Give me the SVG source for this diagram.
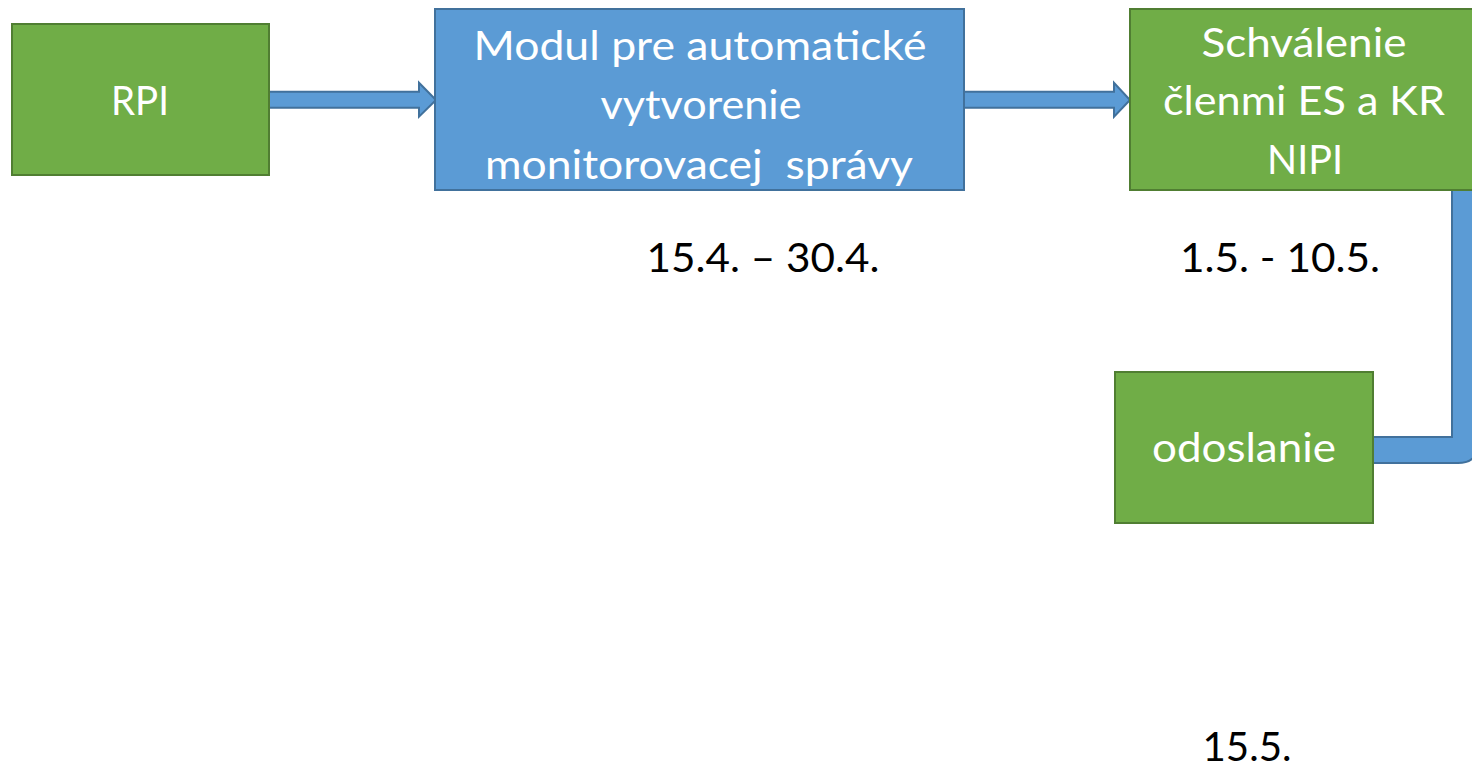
<svg xmlns="http://www.w3.org/2000/svg" width="1472" height="766" viewBox="0 0 1472 766">
<style>
.g{fill:#70AD47;stroke:#507E32;stroke-width:2}
.b{fill:#5B9BD5;stroke:#41719C;stroke-width:2}
.c{fill:#5B9BD5;stroke:#41719C;stroke-width:2;stroke-linejoin:miter}
text{font-family:Lato,"Open Sans","Liberation Sans",sans-serif;font-size:40px;text-anchor:middle}
.w{fill:#FFFFFF}
.k{fill:#000000}
</style>
<rect width="1472" height="766" fill="#FFFFFF"/>
<g id="connectors">
<path class="c" d="M269,91.7 H419 V82.7 L436,100 L419,116.7 V107.7 H269 Z"/>
<path class="c" d="M964,91.7 H1114 V82.7 L1130,100 L1114,116.7 V107.7 H964 Z"/>
<path class="c" d="M1373,437 H1452 V190 H1478 V443 Q1478,463 1458,463 H1373 Z"/>
</g>
<g id="rpi">
<rect class="g" x="12" y="24" width="257" height="151"/>
<text class="w" x="140" y="115" textLength="58" lengthAdjust="spacingAndGlyphs">RPI</text>
</g>
<g id="modul">
<rect class="b" x="435" y="9" width="529" height="181"/>
<text class="w" x="700" y="60" textLength="453" lengthAdjust="spacingAndGlyphs">Modul pre automatické</text>
<text class="w" x="701" y="119" textLength="201" lengthAdjust="spacingAndGlyphs">vytvorenie</text>
<text class="w" x="699" y="179" textLength="428" lengthAdjust="spacingAndGlyphs" xml:space="preserve">monitorovacej  správy</text>
</g>
<g id="schvalenie">
<rect class="g" x="1130" y="9" width="349" height="181"/>
<text class="w" x="1304" y="57" textLength="205" lengthAdjust="spacingAndGlyphs">Schválenie</text>
<text class="w" x="1304" y="115" textLength="282" lengthAdjust="spacingAndGlyphs">členmi ES a KR</text>
<text class="w" x="1305" y="174" textLength="76" lengthAdjust="spacingAndGlyphs">NIPI</text>
</g>
<g id="odoslanie">
<rect class="g" x="1115" y="372" width="258" height="151"/>
<text class="w" x="1244" y="462" textLength="184" lengthAdjust="spacingAndGlyphs">odoslanie</text>
</g>
<g id="labels">
<text class="k" x="763" y="272" textLength="233" lengthAdjust="spacingAndGlyphs">15.4. – 30.4.</text>
<text class="k" x="1280" y="272" textLength="200" lengthAdjust="spacingAndGlyphs">1.5. - 10.5.</text>
<text class="k" x="1247" y="761" textLength="89" lengthAdjust="spacingAndGlyphs">15.5.</text>
</g>
</svg>
